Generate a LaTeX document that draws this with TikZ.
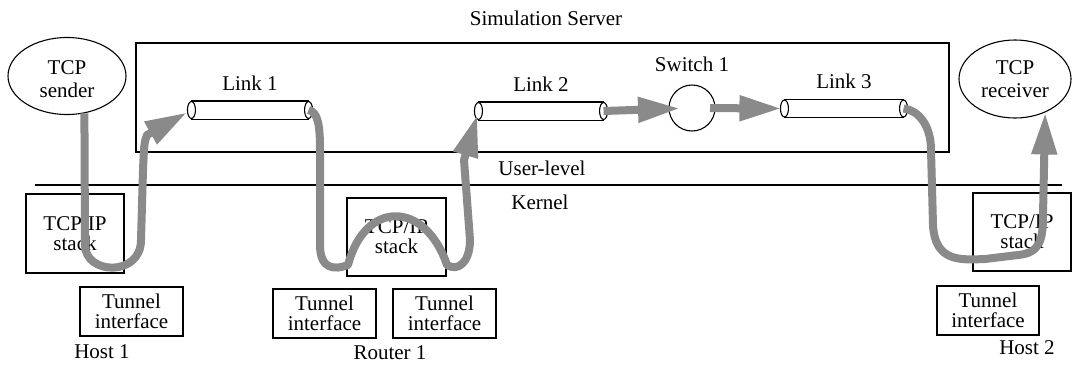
\documentclass[tikz,border=0pt]{standalone}
\usepackage{fontspec}
\setmainfont{Liberation Serif}
\usetikzlibrary{arrows.meta,positioning,shapes.geometric}
\definecolor{flowgray}{RGB}{138,138,138}

\begin{document}
\begin{tikzpicture}[x=1pt, y=-1pt, line width=1.1pt,
  box/.style={rectangle, draw, inner sep=0pt, align=center,
              font=\fontsize{21}{20}\selectfont},
  proc/.style={ellipse, draw, inner sep=0pt, align=center,
               font=\fontsize{21}{23}\selectfont},
  link/.style={rectangle, inner sep=0pt, minimum height=17pt},
  lbl/.style={font=\fontsize{21}{20}\selectfont},
  flow/.style={draw=flowgray, line width=8pt, line join=round,
               -{Triangle[length=42pt, width=24pt]}},
]
\useasboundingbox (0,0) rectangle (1073,365);

% simulation server
\node[lbl] (srvlbl) at (546,18) {Simulation Server};
\node[rectangle, draw, minimum width=813pt, minimum height=109pt] (server) at (542.5,97.5) {};

\node[proc, minimum width=118pt, minimum height=77pt] (snd) at (67,76)
  {\raisebox{-5pt}[\height][\depth]{\begin{tabular}{@{}c@{}}TCP\\sender\end{tabular}}};
\node[proc, minimum width=112pt, minimum height=78pt] (rcv) at (1015,79) {TCP\\receiver};

\node[link, minimum width=116pt] (l1) at (250,110) {};
\node[link, minimum width=124pt] (l2) at (541,111) {};
\node[link, minimum width=118pt] (l3) at (844,108.5) {};
\node[lbl, above=7pt of l1] {Link 1};
\node[lbl, above=7pt of l2] {Link 2};
\node[lbl, above=7pt of l3] {Link 3};
\foreach \n in {l1,l2,l3} {
  \draw (\n.north west) -- (\n.north east) (\n.south west) -- (\n.south east);
  \draw[fill=white] (\n.west) ellipse [x radius=4, y radius=8.5];
  \draw[fill=white] (\n.east) ellipse [x radius=4, y radius=8.5];
}
\node[circle, draw, minimum size=46pt, inner sep=0pt] (sw) at (692,108) {};
\node[lbl, above=9pt of sw] {Switch 1};

% user-level / kernel
\draw (35,185) -- (1062,185);
\node[lbl] at (542,168) {User-level};
\node[lbl] at (540,202) {Kernel};

% hosts and router
\node[box, minimum width=98pt, minimum height=79pt] (h1s) at (75,233.5) {TCP/IP\\stack};
\node[box, minimum width=103pt, minimum height=49pt] (h1t) at (131.5,311.5) {Tunnel\\interface};
\node[lbl] at (102,352) {Host 1};
\node[box, minimum width=99pt, minimum height=78pt] (rs) at (396.5,237) {TCP/IP\\stack};
\node[box, minimum width=103pt, minimum height=49pt] (rtl) at (324.5,313.5) {Tunnel\\interface};
\node[box, minimum width=103pt, minimum height=49pt] (rtr) at (444.5,313.5) {Tunnel\\interface};
\node[lbl] at (390,353) {Router 1};
\node[box, minimum width=98pt, minimum height=78pt] (h2s) at (1022,232) {TCP/IP\\stack};
\node[box, minimum width=102pt, minimum height=49pt] (h2t) at (988,310.5) {Tunnel\\interface};
\node[lbl] at (1027,348) {Host 2};

% packet flow
\draw[flow, shorten >=5pt] (snd.-65) -- (85,245) .. controls (85,275) and (141,277) .. (141,240)
  -- (143,170) .. controls (144,148) and (144,142) .. (147,135) -- (l1.west);
\draw[flow, shorten >=4pt] (l1.east) .. controls (318,112) and (320,125) .. (320,150) -- (320,245)
  .. controls (320,270) and (335,270) .. (348,265) .. controls (365,200) and (425,200) .. (447,265)
  .. controls (458,272) and (470,262) .. (470,240) -- (464,160) -- (l2.west);
\draw[flow, shorten >=12pt] (l2.east) -- (sw.center);
\draw[flow, shorten <=18pt, shorten >=3pt] (sw.center) -- (l3.west);
\draw[flow] (l3.east) .. controls (918,110) and (931,125) .. (931,150) -- (933,225)
  .. controls (935,262) and (960,260) .. (985,259) -- (1018,255)
  .. controls (1040,253) and (1043,240) .. (1043,215) -- (rcv.-48);
\end{tikzpicture}
\end{document}
